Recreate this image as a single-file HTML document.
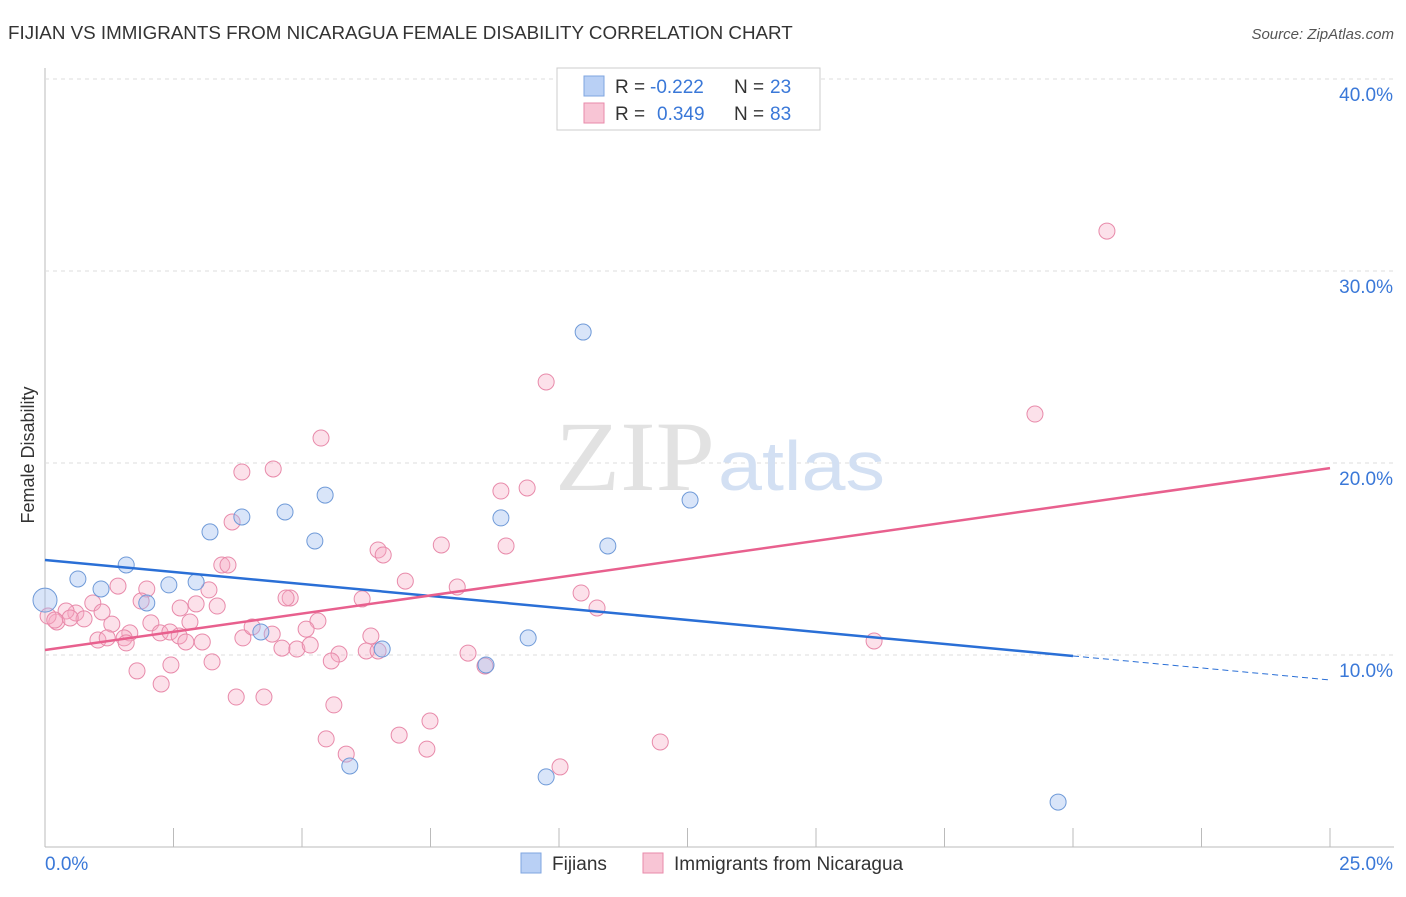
<!DOCTYPE html>
<html><head><meta charset="utf-8"><style>
body{margin:0;background:#fff;font-family:"Liberation Sans",sans-serif}
</style></head><body>
<svg width="1406" height="892" xmlns="http://www.w3.org/2000/svg" font-family="Liberation Sans, sans-serif">
<text x="8" y="39" font-size="18.8" fill="#333">FIJIAN VS IMMIGRANTS FROM NICARAGUA FEMALE DISABILITY CORRELATION CHART</text>
<text x="1394" y="39" font-size="15" fill="#555" font-style="italic" text-anchor="end">Source: ZipAtlas.com</text>
<g id="grid"></g>
<text x="555" y="490" font-size="100" fill="#e2e2e2" font-family="Liberation Serif, serif" textLength="160" lengthAdjust="spacingAndGlyphs">ZIP</text>
<text x="718" y="490" font-size="70" fill="#d3e0f3" textLength="167" lengthAdjust="spacingAndGlyphs">atlas</text>
<text transform="translate(34,455) rotate(-90)" font-size="18" fill="#333" text-anchor="middle">Female Disability</text>
<g id="pts"></g>
<g id="lines"></g>
<g>
<rect x="557" y="68" width="263" height="62" fill="#fff" stroke="#ccc"/>
<rect x="584" y="76" width="20" height="20" fill="#b9d0f5" stroke="#7fa6e0"/>
<rect x="584" y="103" width="20" height="20" fill="#f8c5d5" stroke="#e88aaa"/>
<text x="615" y="93" font-size="19" fill="#333">R =</text>
<text x="650" y="93" font-size="19" fill="#3a78d8">-0.222</text>
<text x="734" y="93" font-size="19" fill="#333">N =</text>
<text x="770" y="93" font-size="19" fill="#3a78d8">23</text>
<text x="615" y="120" font-size="19" fill="#333">R =</text>
<text x="657" y="120" font-size="19" fill="#3a78d8">0.349</text>
<text x="734" y="120" font-size="19" fill="#333">N =</text>
<text x="770" y="120" font-size="19" fill="#3a78d8">83</text>
</g>
<g>
<rect x="521" y="853" width="20" height="20" fill="#b9d0f5" stroke="#7fa6e0"/>
<text x="552" y="870" font-size="19" fill="#333">Fijians</text>
<rect x="643" y="853" width="20" height="20" fill="#f8c5d5" stroke="#e88aaa"/>
<text x="674" y="870" font-size="19" fill="#333">Immigrants from Nicaragua</text>
</g>
</svg>
<script>
const xTicks=[0,2.5,5,7.5,10,12.5,15,17.5,20,22.5,25];
const yTicks=[10,20,30,40];
const yTickLabels=["10.0%","20.0%","30.0%","40.0%"];
const xLabels=["0.0%","25.0%"];
const blueX=[0,0.64,1.09,1.58,1.98,2.41,2.94,3.21,3.83,4.20,4.67,5.25,5.45,5.93,6.56,8.58,8.87,9.40,9.75,10.47,10.95,12.55,19.71];
const blueY=[12.86,13.96,13.44,14.69,12.71,13.65,13.80,16.41,17.19,11.20,17.45,15.94,18.33,4.22,10.31,9.48,17.14,10.89,3.65,26.82,15.68,18.07,2.34];
const pinkX=[20.66,9.75,19.26,5.37,3.83,4.44,8.87,9.38,3.64,7.71,8.97,6.48,6.58,3.44,3.56,7.01,1.42,1.98,8.02,10.43,4.77,4.69,6.17,10.74,0.93,1.87,3.19,3.35,2.63,2.94,0.60,0.41,1.11,0.76,0.23,0.06,0.19,0.49,5.31,2.06,1.30,2.82,5.08,1.65,2.24,2.43,1.03,1.21,1.54,1.58,2.61,2.74,3.06,3.85,4.42,6.34,4.03,16.13,4.61,4.90,5.16,5.72,6.25,6.48,8.23,5.57,8.56,1.79,2.45,3.25,2.26,3.72,4.26,5.62,7.49,5.47,6.89,7.43,5.86,10.02,11.97];
const pinkY=[32.08,24.22,22.55,21.30,19.53,19.69,18.54,18.70,16.93,15.73,15.68,15.47,15.21,14.69,14.69,13.85,13.59,13.44,13.54,13.23,12.97,12.97,12.92,12.45,12.71,12.81,13.39,12.55,12.45,12.66,12.19,12.29,12.24,11.88,11.72,12.03,11.82,11.93,11.77,11.67,11.61,11.72,11.35,11.15,11.15,11.20,10.78,10.89,10.89,10.63,10.99,10.68,10.68,10.89,11.09,10.99,11.46,10.73,10.36,10.31,10.52,10.05,10.21,10.21,10.10,9.69,9.43,9.17,9.48,9.64,8.49,7.81,7.81,7.40,6.56,5.63,5.83,5.10,4.84,4.17,5.47];
const blueTrend=[14.95,-0.25];
const pinkTrend=[10.26,0.379];
const NS="http://www.w3.org/2000/svg";
const X=v=>45+v*(1285/25);
const Y=v=>847-v*19.2;
function mk(t,a,p){const e=document.createElementNS(NS,t);for(const k in a)e.setAttribute(k,a[k]);p.appendChild(e);return e;}
const grid=document.getElementById('grid');
mk('line',{x1:45,y1:847,x2:1394,y2:847,stroke:'#bbb'},grid);
mk('line',{x1:45,y1:68,x2:45,y2:847,stroke:'#bbb'},grid);
xTicks.forEach(t=>{const l=mk('line',{x1:X(t),y1:828,x2:X(t),y2:847,stroke:'#bbb'},grid);

});
yTicks.forEach((t,i)=>{const l=mk('line',{x1:45,y1:Y(t),x2:1394,y2:Y(t),stroke:'#ddd','stroke-dasharray':'4,4'},grid);


const tx=mk('text',{x:1393,y:Y(t)+22,'font-size':19,fill:'#3a78d8','text-anchor':'end'},grid);tx.textContent=yTickLabels[i];

});
mk('line',{x1:45,y1:79,x2:1394,y2:79,stroke:'#ddd','stroke-dasharray':'4,4'},grid);
const xl0=mk('text',{x:45,y:870,'font-size':19,fill:'#3a78d8'},grid);xl0.textContent=xLabels[0];


const xl1=mk('text',{x:1393,y:870,'font-size':19,fill:'#3a78d8','text-anchor':'end'},grid);xl1.textContent=xLabels[1];


const pts=document.getElementById('pts');
pinkX.forEach((x,i)=>{const c=mk('circle',{cx:X(x),cy:Y(pinkY[i]),r:8,fill:'rgba(245,170,195,0.35)',stroke:'#e88aaa','stroke-width':1},pts);

});
blueX.forEach((x,i)=>{const c=mk('circle',{cx:X(x),cy:Y(blueY[i]),r:i==0?12:8,fill:'rgba(160,190,240,0.4)',stroke:'#6f9ad8','stroke-width':1},pts);

});
const lines=document.getElementById('lines');
const bl=mk('line',{x1:X(0),y1:Y(blueTrend[0]),x2:X(20),y2:Y(blueTrend[0]+20*blueTrend[1]),stroke:'#2a6fd6','stroke-width':2.5},lines);


const bd=mk('line',{x1:X(20),y1:Y(blueTrend[0]+20*blueTrend[1]),x2:X(25),y2:Y(blueTrend[0]+25*blueTrend[1]),stroke:'#2a6fd6','stroke-width':1,'stroke-dasharray':'6,4'},lines);


const pl=mk('line',{x1:X(0),y1:Y(pinkTrend[0]),x2:X(25),y2:Y(pinkTrend[0]+25*pinkTrend[1]),stroke:'#e8608e','stroke-width':2.5},lines);


</script>
</body></html>
